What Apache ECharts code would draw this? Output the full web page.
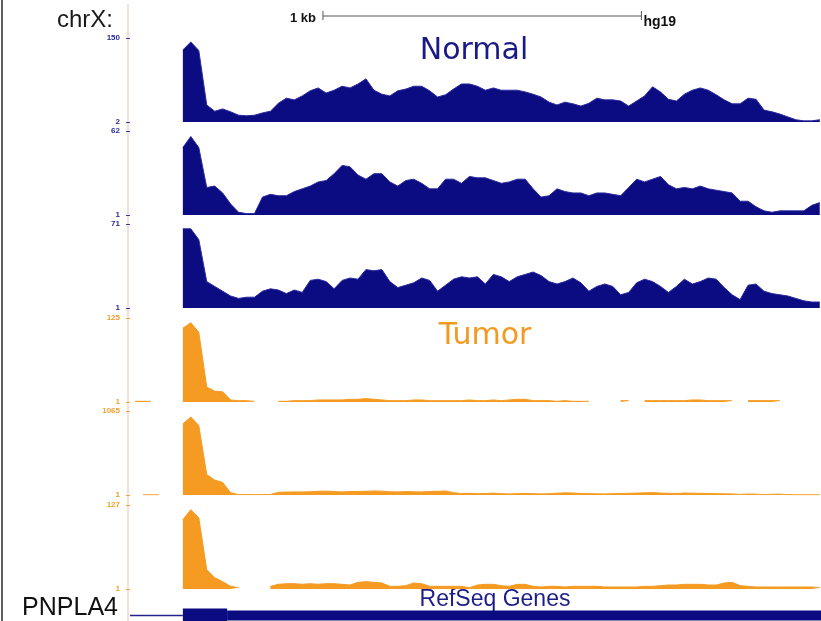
<!DOCTYPE html>
<html>
<head>
<meta charset="utf-8">
<script src="https://cdn.jsdelivr.net/npm/echarts@6/dist/echarts.min.js"></script>
<style>
  html, body { margin: 0; padding: 0; background: #fff; }
  #chart { width: 821px; height: 621px; }
</style>
</head>
<body>
<div id="chart"></div>
<script>
  // genomic window (bp from the left edge of the tracks), coverage bins
  const windowEnd = 2170
  const binStart = 16
  const binSize = 25

  // data range shown on each track (min / max labels)
  const rangeMin = [2, 1, 1, 1, 1, 1]
  const rangeMax = [150, 62, 71, 125, 1065, 127]

  // Normal coverage
  const normal1 = [null, null, null, null, null, null,
    129, 143, 128, 32, 21, 25, 20, 14, 13, 14, 18, 21, 35, 44, 41, 48, 57, 62, 53, 58,
    65, 62, 69, 78, 58, 51, 48, 57, 60, 65, 65, 57, 46, 50, 60, 69, 69, 65, 58, 62,
    58, 58, 58, 55, 51, 46, 37, 32, 37, 34, 30, 35, 44, 41, 41, 39, 30, 39, 48, 64,
    55, 42, 39, 51, 58, 62, 58, 50, 41, 34, 34, 44, 42, 23, 20, 16, 11, 6, 4, 4, 6]
  const normal2 = [null, null, null, null, null, null,
    50, 58, 50, 21, 22, 17, 9, 3, 2, 2, 14, 16, 15, 15, 18, 20, 22, 25, 26, 31,
    37, 36, 30, 27, 31, 31, 25, 22, 26, 27, 24, 20, 20, 27, 27, 24, 29, 28, 28, 26,
    24, 25, 27, 27, 20, 14, 15, 20, 18, 17, 17, 15, 17, 17, 16, 15, 21, 27, 25, 27,
    29, 23, 20, 21, 20, 22, 20, 19, 18, 17, 11, 11, 7, 4, 3, 4, 4, 4, 4, 8, 10]
  const normal3 = [null, null, null, null, null, null,
    67, 67, 58, 23, 19, 15, 11, 9, 10, 10, 15, 17, 16, 13, 16, 14, 24, 25, 23, 17,
    24, 26, 25, 33, 32, 33, 23, 18, 20, 22, 26, 24, 15, 20, 25, 27, 26, 27, 21, 29,
    27, 23, 27, 29, 31, 28, 23, 21, 23, 26, 22, 15, 19, 21, 19, 12, 14, 22, 25, 23,
    19, 14, 19, 25, 21, 23, 26, 25, 18, 12, 8, 20, 21, 15, 13, 12, 11, 9, 7, 6, 6]

  // Tumor coverage (null = no reads)
  const tumor1 = [2, 2, 2, null, null, null,
    110, 118, 104, 23, 17, 16, 4, 3, 3, 2, null, null,
    2, 2, 3, 3, 3, 4, 4, 4, 4, 5, 5, 6, 5, 4, 3, 3, 3, 4, 4, 3,
    3, 3, 3, 3, 4, 3, 3, 4, 3, 4, 5, 5, 3, 3, 3, 2, 3, 2, 2, 2,
    null, null, null, 3, 3, null, 3, 3, 3, 3, 3, 3, 4, 4, 3, 3, 3, 3,
    null, 3, 3, 3, 3, 3, null, null, null, null, null]
  const tumor2 = [null, 3, 3, 3, null, null,
    900, 990, 880, 260, 190, 160, 30, 6, 6, 5, 6, 8, 35, 38, 40, 40, 42, 48, 50, 45,
    40, 44, 46, 48, 52, 50, 42, 40, 44, 42, 40, 45, 48, 52, 30, 20, 22, 18, 20, 25,
    18, 15, 18, 20, 18, 15, 18, 24, 28, 26, 20, 18, 16, 15, 18, 20, 22, 25, 28, 32,
    25, 22, 20, 26, 24, 22, 20, 18, 16, 15, 8, 14, 12, 5, 10, 12, 6, 4, 4, 4, 4]
  const tumor3 = [null, null, null, null, null, null,
    105, 120, 108, 30, 18, 12, 5, 3, null, null, null, 5, 8, 9, 9, 8, 9, 8, 9, 9,
    8, 7, 11, 12, 11, 10, 5, 5, 6, 10, 9, 5, 5, 5, 5, 5, 3, 7, 8, 8,
    6, 5, 8, 8, 5, 4, 5, 5, 4, 5, 5, 5, 5, 4, 4, 4, 4, 4, 5, 5,
    6, 7, 7, 8, 8, 8, 7, 7, 10, 11, 6, 5, 4, 4, 4, 4, 4, 4, 4, 4, 3]

  // scale bar [start, end] in bp, and PNPLA4 parts [start, end, kind] 0 intron, 1 utr, 2 cds
  const scaleBar = [606, 1606]
  const geneParts = [[0, 166, 0], [166, 305, 2], [305, 2170, 1]]

  const NAVY = '#0b0b82'
  const ORANGE = '#f59b22'
  const FONT = 'Liberation Sans'

  const trackValues = [normal1, normal2, normal3, tumor1, tumor2, tumor3]
  const trackTops = [38, 131, 224, 318, 411, 505]
  const trackHeight = 84
  const geneHeights = [1.5, 10, 14]

  let myChart = echarts.init(document.getElementById('chart'))

  let grids = []
  let xAxes = []
  let yAxes = []
  let series = []

  trackValues.forEach((values, i) => {
    let isNormal = i < 3
    let color = isNormal ? NAVY : ORANGE
    grids.push({ left: 130, right: 0, top: trackTops[i], height: trackHeight })
    xAxes.push({
      type: 'value',
      gridIndex: i,
      min: 0,
      max: windowEnd,
      show: false
    })
    yAxes.push({
      type: 'value',
      gridIndex: i,
      min: rangeMin[i],
      max: rangeMax[i],
      offset: 4,
      axisLine: { show: false },
      splitLine: { show: false },
      axisTick: {
        show: true,
        length: 4,
        customValues: [rangeMin[i], rangeMax[i]],
        lineStyle: { color: isNormal ? '#3a3aa8' : '#f2a640', width: 1 }
      },
      axisLabel: {
        customValues: [rangeMin[i], rangeMax[i]],
        formatter: (v) => String(v),
        fontSize: 8,
        fontWeight: 'bold',
        fontFamily: FONT,
        color: isNormal ? '#2a2a9c' : '#f0a030',
        margin: 6,
        padding: [0, 0, 4, 0]
      }
    })
    series.push({
      type: 'line',
      xAxisIndex: i,
      yAxisIndex: i,
      data: values.map((v, j) => [binStart + j * binSize, v === null ? '-' : v]),
      symbol: 'none',
      showSymbol: false,
      connectNulls: false,
      lineStyle: { color: isNormal ? '#2a2a9e' : color, width: 1 },
      areaStyle: { color: color, opacity: 1 },
      silent: true,
      animation: false
    })
  })

  // ruler row
  let rulerIdx = grids.length
  grids.push({ left: 130, right: 0, top: 8, height: 16 })
  xAxes.push({ type: 'value', gridIndex: rulerIdx, min: 0, max: windowEnd, show: false })
  yAxes.push({ type: 'value', gridIndex: rulerIdx, min: 0, max: 1, show: false })
  series.push({
    type: 'custom',
    xAxisIndex: rulerIdx,
    yAxisIndex: rulerIdx,
    data: [scaleBar],
    encode: { x: [0, 1] },
    clip: false,
    silent: true,
    animation: false,
    renderItem: (params, api) => {
      let a = api.coord([api.value(0), 0.5])
      let b = api.coord([api.value(1), 0.5])
      let c = '#555'
      return {
        type: 'group',
        children: [
          { type: 'line', shape: { x1: a[0], y1: a[1], x2: b[0], y2: b[1] }, style: { stroke: c, lineWidth: 1 } },
          { type: 'line', shape: { x1: a[0], y1: a[1] - 5, x2: a[0], y2: a[1] + 4 }, style: { stroke: c, lineWidth: 1 } },
          { type: 'line', shape: { x1: b[0], y1: b[1] - 5, x2: b[0], y2: b[1] + 4 }, style: { stroke: c, lineWidth: 1 } },
          {
            type: 'text',
            style: {
              x: a[0] - 7, y: a[1] + 2, text: '1 kb',
              align: 'right', textAlign: 'right', verticalAlign: 'middle', textVerticalAlign: 'middle',
              font: 'bold 13px "Liberation Sans"', fill: '#111'
            }
          },
          {
            type: 'text',
            style: {
              x: b[0] + 2, y: b[1] + 6, text: 'hg19',
              align: 'left', textAlign: 'left', verticalAlign: 'middle', textVerticalAlign: 'middle',
              font: 'bold 14px "Liberation Sans"', fill: '#111'
            }
          }
        ]
      }
    }
  })

  // RefSeq gene row
  let geneIdx = grids.length
  grids.push({ left: 130, right: 0, top: 610, height: 14 })
  xAxes.push({ type: 'value', gridIndex: geneIdx, min: 0, max: windowEnd, show: false })
  yAxes.push({ type: 'value', gridIndex: geneIdx, min: 0, max: 1, show: false })
  series.push({
    type: 'custom',
    xAxisIndex: geneIdx,
    yAxisIndex: geneIdx,
    data: geneParts,
    encode: { x: [0, 1] },
    clip: false,
    silent: true,
    animation: false,
    renderItem: (params, api) => {
      let h = geneHeights[api.value(2)]
      let a = api.coord([api.value(0), 0.5])
      let b = api.coord([api.value(1), 0.5])
      return {
        type: 'rect',
        shape: { x: a[0], y: a[1] - h / 2, width: b[0] - a[0], height: h },
        style: { fill: h < 2 ? '#23238f' : NAVY }
      }
    }
  })

  let text = (x, y, str, font, fill, align) => ({
    type: 'text',
    silent: true,
    style: {
      x: x, y: y, text: str, font: font, fill: fill,
      align: align, textAlign: align, verticalAlign: 'middle', textVerticalAlign: 'middle'
    }
  })

  let chartData = {
    backgroundColor: '#fff',
    animation: false,
    grid: grids,
    xAxis: xAxes,
    yAxis: yAxes,
    series: series,
    graphic: [
      { type: 'line', silent: true, shape: { x1: 2, y1: 0, x2: 2, y2: 621 }, style: { stroke: '#2a2a2a', lineWidth: 1.5 } },
      { type: 'line', silent: true, shape: { x1: 128, y1: 4, x2: 128, y2: 621 }, style: { stroke: '#f1d6cf', lineWidth: 1.5 } },
      text(113, 20, 'chrX:', '24px "Liberation Sans"', '#1a1a1a', 'right'),
      text(474, 51, 'Normal', '30px "DejaVu Sans"', '#1a1a86', 'center'),
      text(485, 336, 'Tumor', '30px "DejaVu Sans"', '#f39a22', 'center'),
      text(495, 600, 'RefSeq Genes', '23px "Liberation Sans"', '#1d1d8a', 'center'),
      text(118, 608, 'PNPLA4', '25px "Liberation Sans"', '#111', 'right')
    ]
  }
  myChart.setOption(chartData)
</script>
</body>
</html>
